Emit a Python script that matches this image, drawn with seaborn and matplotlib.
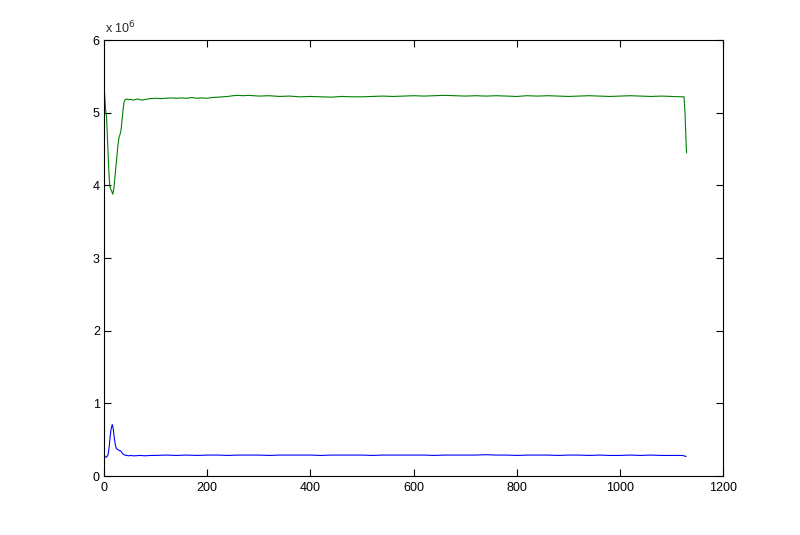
import matplotlib
matplotlib.use("Agg")
import matplotlib.pyplot as plt
import seaborn as sns
import pandas as pd

# ---- data (values in millions) ----
green_x = [0, 1, 3, 5, 7, 9, 11, 13, 15, 17, 19, 21, 23, 25, 27, 29, 31, 33, 35, 37, 39, 41,
           44, 48, 52, 56, 60, 65, 70, 75, 80, 90, 100, 110, 120, 130, 140, 150, 160, 170,
           180, 190, 200, 210, 220, 230, 240, 250, 260, 270, 280,
           300, 320, 340, 360, 380, 400, 420, 440, 460, 480, 500, 520, 540, 560, 580, 600,
           620, 640, 660, 680, 700, 720, 740, 760, 780, 800, 820, 840, 860, 880, 900, 920,
           940, 960, 980, 1000, 1020, 1040, 1060, 1080, 1100, 1120,
           1124, 1126, 1128, 1129]
green_y = [5.30, 5.28, 5.05, 4.94, 4.60, 4.25, 4.00, 3.95, 3.92, 3.88, 3.95, 4.10, 4.25, 4.40,
           4.55, 4.66, 4.70, 4.76, 4.90, 5.05, 5.15, 5.18,
           5.19, 5.18, 5.185, 5.175, 5.18, 5.19, 5.18, 5.175, 5.185, 5.195, 5.20, 5.195, 5.20,
           5.205, 5.20, 5.205, 5.20, 5.21, 5.20, 5.205, 5.20, 5.21, 5.215, 5.22, 5.225, 5.235,
           5.24, 5.235, 5.24,
           5.23, 5.235, 5.225, 5.23, 5.22, 5.225, 5.22, 5.215, 5.225, 5.22, 5.22, 5.225, 5.23,
           5.225, 5.23, 5.235, 5.23, 5.235, 5.24, 5.235, 5.23, 5.235, 5.23, 5.235, 5.23, 5.225,
           5.235, 5.23, 5.235, 5.23, 5.225, 5.23, 5.235, 5.23, 5.225, 5.23, 5.235, 5.23, 5.225,
           5.23, 5.225, 5.22,
           5.22, 5.00, 4.60, 4.45]

blue_x = [0, 2, 4, 6, 8, 10, 12, 14, 16, 18, 20, 22, 24, 26, 28, 30, 32, 34, 36, 38, 40,
          44, 48, 52, 56, 60, 70, 80, 90, 100,
          120, 140, 160, 180, 200, 220, 240, 260, 280, 300, 320, 340, 360, 380, 400, 420,
          440, 460, 480, 500, 520, 540, 560, 580, 600, 620, 640, 660, 680, 700, 720, 740,
          760, 780, 800, 820, 840, 860, 880, 900, 920, 940, 960, 980, 1000, 1020, 1040,
          1060, 1080, 1100, 1120, 1124, 1128]
blue_y = [0.30, 0.27, 0.26, 0.27, 0.30, 0.40, 0.55, 0.66, 0.71, 0.65, 0.52, 0.43, 0.38, 0.37,
          0.36, 0.35, 0.35, 0.33, 0.31, 0.30, 0.29,
          0.285, 0.28, 0.285, 0.28, 0.28, 0.285, 0.28, 0.285, 0.285,
          0.29, 0.285, 0.29, 0.285, 0.29, 0.29, 0.285, 0.29, 0.29, 0.29, 0.285, 0.29, 0.29,
          0.29, 0.29, 0.285, 0.29, 0.29, 0.29, 0.29, 0.285, 0.29, 0.29, 0.29, 0.29, 0.29,
          0.285, 0.29, 0.29, 0.29, 0.29, 0.295, 0.29, 0.29, 0.285, 0.29, 0.29, 0.29, 0.285,
          0.29, 0.29, 0.285, 0.29, 0.285, 0.285, 0.29, 0.285, 0.29, 0.285, 0.285, 0.285,
          0.28, 0.27]

x_ticks = [0, 200, 400, 600, 800, 1000, 1200]
y_ticks = [0, 1, 2, 3, 4, 5, 6]

sns.set_style("white")
plt.rcParams['font.family'] = ['Liberation Sans', 'DejaVu Sans']

fig = plt.figure(figsize=(8.0, 5.35), dpi=100)
ax = fig.add_axes([0.13, 0.11, 0.774, 0.815])

dfb = pd.DataFrame({"x": blue_x, "y": blue_y})
dfg = pd.DataFrame({"x": green_x, "y": green_y})
sns.lineplot(data=dfb, x="x", y="y", ax=ax, color="#0000ff", linewidth=0.8,
             sort=False, estimator=None)
sns.lineplot(data=dfg, x="x", y="y", ax=ax, color="#008000", linewidth=0.8,
             sort=False, estimator=None)

ax.set_xlim(0, 1200)
ax.set_ylim(0, 6)
ax.set_xticks(x_ticks)
ax.set_yticks(y_ticks)
ax.set_xticklabels([str(t) for t in x_ticks])
ax.set_yticklabels([str(t) for t in y_ticks])
ax.set_xlabel("")
ax.set_ylabel("")
ax.tick_params(direction="in", length=5, width=0.8, colors="black", labelsize=9,
               top=True, right=True, bottom=True, left=True)
ax.tick_params(axis="x", pad=4)
ax.tick_params(axis="y", pad=3)
for s in ax.spines.values():
    s.set_visible(True)
    s.set_color("black")
    s.set_linewidth(0.8)

ax.text(0.002, 1.016, r"x 10$^{6}$", transform=ax.transAxes, fontsize=9,
        ha="left", va="baseline")

fig.savefig("out.png", dpi=100, facecolor="white")
